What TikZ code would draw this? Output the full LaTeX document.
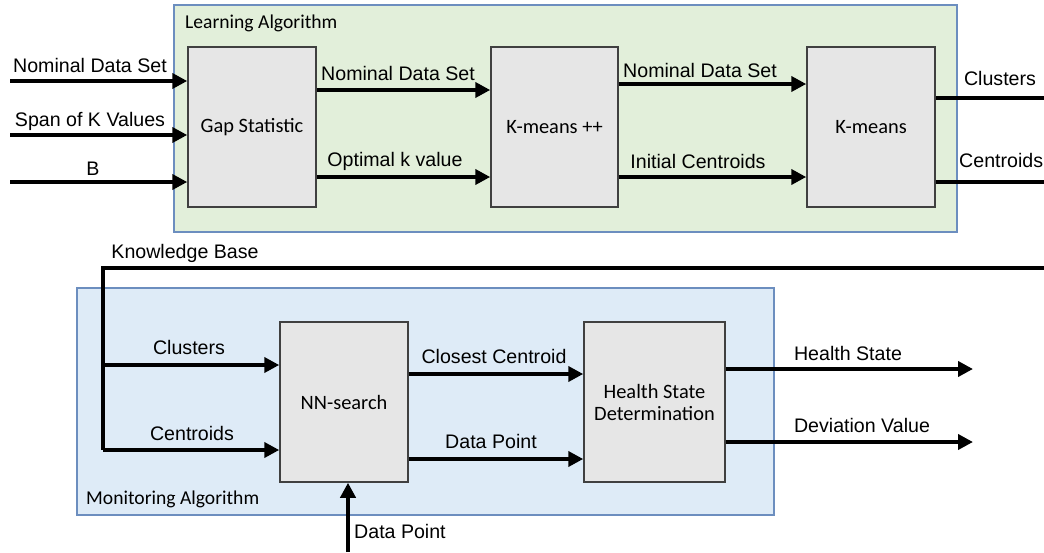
\documentclass[tikz,border=0pt]{standalone}
\usepackage{fontspec}
\setmainfont{Liberation Sans}
\newfontfamily\carl{Carlito}
\usetikzlibrary{arrows.meta}
\definecolor{grnfill}{HTML}{E2EFDA}
\definecolor{bluefill}{HTML}{DEEBF7}
\definecolor{frameline}{HTML}{6C8EBF}
\definecolor{boxfill}{HTML}{E6E6E6}
\definecolor{boxline}{HTML}{404040}
\tikzset{
  frame/.style={draw=frameline, line width=1.2pt},
  procbox/.style={draw=boxline, fill=boxfill, line width=1.5pt, minimum height=160pt,
    inner sep=0pt, align=center, font=\carl\fontsize{20.4}{24}\selectfont},
  flow/.style={line width=4.5pt, -{Triangle[length=15pt,width=15pt]}},
  plain/.style={line width=4.5pt},
  lbl/.style={inner sep=0pt, anchor=base, font=\fontsize{19.6}{22}\selectfont},
  ttl/.style={inner sep=0pt, anchor=base west, font=\carl\fontsize{19.6}{22}\selectfont}
}
\begin{document}
\begin{tikzpicture}[x=1pt,y=-1pt]
\useasboundingbox (0,0) rectangle (1044,552);
% frames
\draw[frame, fill=grnfill] (174,5) rectangle (957,232);
\draw[frame, fill=bluefill] (77,288) rectangle (774,515);
\node[ttl] (lt) at (185,28) {Learning Algorithm};
\node[ttl] (mt) at (86,504) {Monitoring Algorithm};
% process boxes
\node[procbox, minimum width=128pt] (gap) at (252,127) {Gap Statistic};
\node[procbox, minimum width=127pt] (kpp) at (554.5,127) {K-means ++};
\node[procbox, minimum width=128pt] (km) at (871,127) {K-means};
\node[procbox, minimum width=128pt] (nn) at (344,402) {NN-search};
\node[procbox, minimum width=141pt] (hsd) at (654.5,402) {Health State\\[-2pt]Determination};
% free ends
\coordinate (i1) at (10,81);
\coordinate (i2) at (10,135);
\coordinate (i3) at (10,182);
\coordinate (o1) at (1044,98);
\coordinate (o2) at (1044,182);
\coordinate (kbR) at (1044,268);
\coordinate (kbC) at (103,268);
\coordinate (kbM) at (103,365);
\coordinate (kbB) at (103,450);
\coordinate (hs) at (973,369);
\coordinate (dv) at (973,442);
\coordinate (dp) at (348,552);
% inputs
\draw[flow] (i1) -- (i1 -| gap.west);
\draw[flow] (i2) -- (i2 -| gap.west);
\draw[flow] (i3) -- (i3 -| gap.west);
\node[lbl] (l1) at (90,72) {Nominal Data Set};
\node[lbl] (l2) at (90,126) {Span of K Values};
\node[lbl] (l3) at (93,175) {B};
% gap -> kpp
\draw[flow] (gap.east |- 0,90) -- (kpp.west |- 0,90);
\draw[flow] (gap.east |- 0,177) -- (kpp.west |- 0,177);
\node[lbl] (l4) at (398,80) {Nominal Data Set};
\node[lbl] (l5) at (395,166) {Optimal k value};
% kpp -> km
\draw[flow] (kpp.east |- 0,84) -- (km.west |- 0,84);
\draw[flow] (kpp.east |- 0,177) -- (km.west |- 0,177);
\node[lbl] (l6) at (700,77) {Nominal Data Set};
\node[lbl] (l7) at (698,168) {Initial Centroids};
% km outputs
\draw[plain] (km.east |- o1) -- (o1);
\draw[plain] (km.east |- o2) -- (o2);
\node[lbl] (l8) at (1000,85) {Clusters};
\node[lbl, anchor=base west] (l9) at (959,167) {Centroids};
% knowledge base
\draw[plain] (kbR) -- (kbC) -- (kbB);
\draw[flow] (kbB) -- (kbB -| nn.west);
\draw[flow] (kbM) -- (kbM -| nn.west);
\node[lbl] (l10) at (185,258) {Knowledge Base};
\node[lbl] (l11) at (189,354) {Clusters};
\node[lbl] (l12) at (192,440) {Centroids};
% nn -> hsd
\draw[flow] (nn.east |- 0,374) -- (hsd.west |- 0,374);
\draw[flow] (nn.east |- 0,459) -- (hsd.west |- 0,459);
\node[lbl] (l13) at (494,363) {Closest Centroid};
\node[lbl] (l14) at (491,448) {Data Point};
% hsd outputs
\draw[flow] (hsd.east |- hs) -- (hs);
\draw[flow] (hsd.east |- dv) -- (dv);
\node[lbl] (l15) at (848,360) {Health State};
\node[lbl] (l16) at (862,432) {Deviation Value};
% data point input
\draw[flow] (dp) -- (dp |- nn.south);
\node[lbl, anchor=base west] (l17) at (354,538) {Data Point};
\end{tikzpicture}
\end{document}
